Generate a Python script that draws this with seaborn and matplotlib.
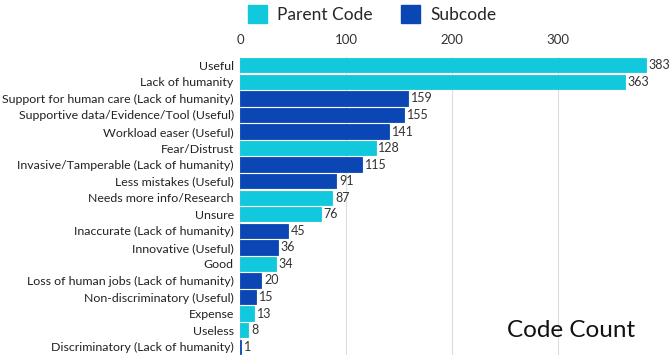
import pandas as pd
import matplotlib
matplotlib.use('Agg')
import matplotlib.pyplot as plt
import seaborn as sns
from matplotlib.patches import Patch

categories = ['Useful', 'Lack of humanity', 'Support for human care (Lack of humanity)',
              'Supportive data/Evidence/Tool (Useful)', 'Workload easer (Useful)',
              'Fear/Distrust', 'Invasive/Tamperable (Lack of humanity)',
              'Less mistakes (Useful)', 'Needs more info/Research', 'Unsure',
              'Inaccurate (Lack of humanity)', 'Innovative (Useful)', 'Good',
              'Loss of human jobs (Lack of humanity)', 'Non-discriminatory (Useful)',
              'Expense', 'Useless', 'Discriminatory (Lack of humanity)']
counts = [383, 363, 159, 155, 141, 128, 115, 91, 87, 76, 45, 36, 34, 20, 15, 13, 8, 1]
code_type = ['Parent Code', 'Parent Code', 'Subcode', 'Subcode', 'Subcode',
             'Parent Code', 'Subcode', 'Subcode', 'Parent Code', 'Parent Code',
             'Subcode', 'Subcode', 'Parent Code', 'Subcode', 'Subcode',
             'Parent Code', 'Parent Code', 'Subcode']

df = pd.DataFrame({'Code': categories, 'Count': counts, 'Type': code_type})

sns.set_style("white")
plt.rcParams['font.family'] = ['Lato', 'DejaVu Sans']

palette = {'Parent Code': '#12C8DC', 'Subcode': '#0A47B4'}

fig = plt.figure(figsize=(6.69, 3.55), dpi=100)
ax = fig.add_axes([240 / 669, 0.0, 1 - 240 / 669, 1 - 57 / 355])
sns.barplot(data=df, x='Count', y='Code', hue='Type', palette=palette, dodge=False,
            width=0.86, saturation=1, legend=False, ax=ax)

for p in ax.patches:
    p.set_edgecolor(p.get_facecolor())
    p.set_linewidth(0.6)

for c in ax.containers:
    ax.bar_label(c, padding=2, fontsize=9, color='#333333')

ax.set_xlim(0, 405)
ax.set_ylim(len(categories) - 0.5, -0.5)
ax.set_xticks([0, 100, 200, 300])
ax.xaxis.tick_top()
ax.tick_params(axis='x', length=0, labelsize=9.5, colors='#333333', pad=8)
ax.tick_params(axis='y', length=0, labelsize=8.9, colors='#222222', pad=4.5)
ax.grid(axis='x', color='#dddddd', linewidth=0.8)
ax.set_axisbelow(True)
for s in ax.spines.values():
    s.set_visible(False)
ax.set_xlabel('')
ax.set_ylabel('')

handles = [Patch(color=palette['Parent Code'], label='Parent Code'),
           Patch(color=palette['Subcode'], label='Subcode')]
fig.legend(handles=handles, loc='upper left', bbox_to_anchor=(232 / 669, 1.03), ncol=2,
           frameon=False, fontsize=12.5, handlelength=1.1, handleheight=1.2,
           columnspacing=1.6, handletextpad=0.6)

fig.text(0.95, 0.07, 'Code Count', ha='right', va='center', fontsize=17.5, color='#111111')

fig.savefig('out.png', dpi=100)
